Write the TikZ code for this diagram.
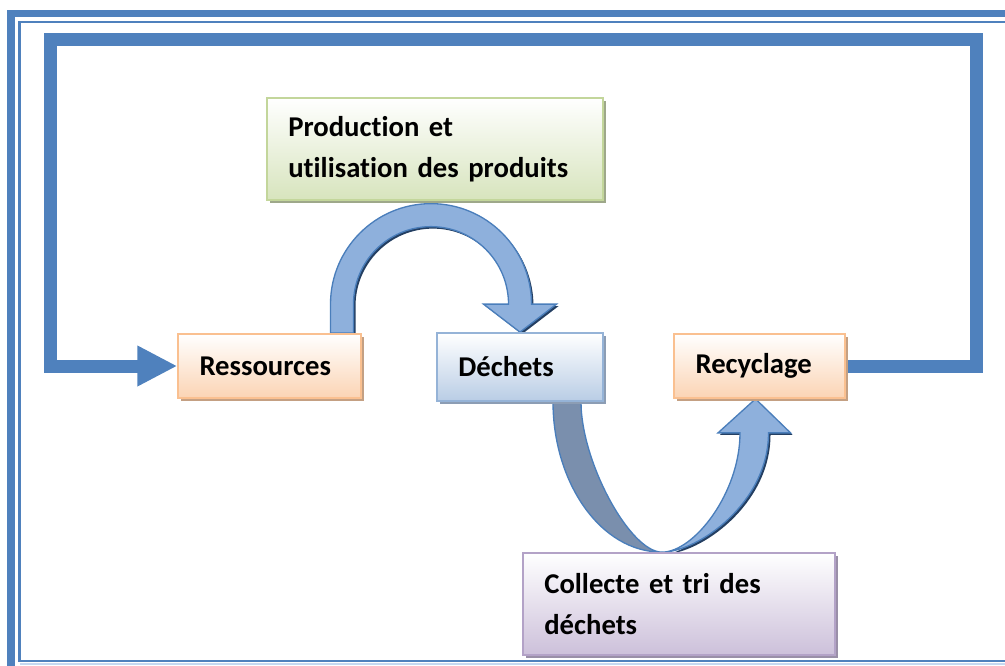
\documentclass[tikz,border=0pt]{standalone}
\usepackage{fontspec}
\setmainfont[Ligatures=NoCommon]{Carlito}
\usetikzlibrary{arrows.meta,shadows,backgrounds,calc}

\definecolor{frameblue}{HTML}{4F81BD}
\definecolor{framelight}{HTML}{C6D9F1}
\definecolor{orline}{HTML}{FAC090}
\definecolor{orfill}{HTML}{FBD4B4}
\definecolor{orshadow}{HTML}{C4A083}
\definecolor{blline}{HTML}{95B3D7}
\definecolor{blfill}{HTML}{B9CDE5}
\definecolor{blshadow}{HTML}{8C9DB4}
\definecolor{grline}{HTML}{C3D69B}
\definecolor{grfill}{HTML}{D7E4BD}
\definecolor{grshadow}{HTML}{9EA88A}
\definecolor{puline}{HTML}{B3A2C7}
\definecolor{pufill}{HTML}{CCC0DA}
\definecolor{pushadow}{HTML}{9A8FA8}
\definecolor{arrowedge}{HTML}{4A7EBB}
\definecolor{arrowlight}{HTML}{8EB0DC}
\definecolor{arrowdark}{HTML}{243F62}
\definecolor{arrowgrey}{HTML}{7A8FAD}

\begin{document}
\begin{tikzpicture}[x=0.75pt,y=-0.75pt,
  box/.style={draw,line width=1.3pt,inner xsep=16pt,inner ysep=2pt,align=left,
    font=\bfseries\fontsize{21.5}{30.5}\selectfont},
  orbox/.style={box,draw=orline,top color=white,bottom color=orfill,
    drop shadow={shadow xshift=2.2pt,shadow yshift=-2.2pt,fill=orshadow,opacity=1}},
  blbox/.style={box,draw=blline,top color=white,bottom color=blfill,
    drop shadow={shadow xshift=2.2pt,shadow yshift=-2.2pt,fill=blshadow,opacity=1}},
  grbox/.style={box,draw=grline,top color=white,bottom color=grfill,
    drop shadow={shadow xshift=2.2pt,shadow yshift=-2.2pt,fill=grshadow,opacity=1}},
  pubox/.style={box,draw=puline,top color=white,bottom color=pufill,
    drop shadow={shadow xshift=2.2pt,shadow yshift=-2.2pt,fill=pushadow,opacity=1}},
  loopline/.style={draw=frameblue,line width=9.75pt,
    -{Triangle[length=30pt 0 0,width=28.5pt 0 0]}},
  frontarrow/.style={draw=arrowedge,line width=1pt,top color=arrowlight,
    middle color=frameblue,bottom color=arrowlight,
    drop shadow={shadow xshift=1.5pt,shadow yshift=-1.5pt,fill=arrowdark,opacity=1}},
  backarrow/.style={draw=arrowedge,line width=1pt,fill=arrowgrey}]

\useasboundingbox (0,0) rectangle (1005,666);

\node[orbox,text width=105pt,minimum height=48pt] (res) at (269.5,366) {Ressources};
\node[blbox,text width=92.5pt,minimum height=51pt] (dec) at (520,367) {Déchets};
\node[orbox,text width=96pt,minimum height=48pt] (rec) at (759.5,366) {Recyclage};
\node[grbox,text width=220pt,minimum height=76.5pt] (prod) at (435,149) {Production et\\utilisation des produits};
\node[pubox,text width=202pt,minimum height=76.5pt] (coll) at (679,604) {Collecte et tri des\\déchets};

\coordinate (tr) at (976,40);
\coordinate (tl) at (50,40);
\coordinate (bot) at ($(coll.north)+(-17,0)$);
\coordinate (tip) at ($(rec.south)+(-4,0)$);

\begin{pgfonlayer}{background}
% page frame
\path[draw=frameblue,line width=5.6pt] (11,670) -- (11,13.5) -- (1010,13.5);
\path[draw=frameblue,line width=1.7pt] (1010,22) -- (19.5,22) -- (19.5,661) -- (1010,661);
\path[draw=framelight,line width=0.8pt] (19.5,664) -- (1010,664);

% loop back
\path[loopline] (rec.east) -| (tr) -- (tl) |- (res.west);

% Ressources -> Dechets
\path[frontarrow] ($(res.north)+(61,0)$) -- ++(0,-29)
  arc[start angle=180,end angle=360,radius=100.5] -- ++(25,0) -- (dec.north)
  -- ++(-36.5,-28) -- ++(25,0) arc[start angle=360,end angle=180,radius=77.5]
  -- ++(0,29) -- cycle;

% Dechets -> Collecte -> Recyclage
\path[backarrow] ($(dec.south)+(33,0)$) .. controls +(0,80) and +(-62,0) .. (bot)
  .. controls +(-32,0) and +(0,60) .. ($(dec.south)+(61,0)$) -- cycle;
\path[frontarrow] (bot) .. controls +(32,0) and +(0,60) .. ($(tip)+(-15.5,34)$)
  -- ++(-22,0) -- (tip) -- ++(35,34) -- ++(-22,0)
  .. controls +(0,70) and +(36,0) .. (bot) -- cycle;
\end{pgfonlayer}

\end{tikzpicture}
\end{document}
